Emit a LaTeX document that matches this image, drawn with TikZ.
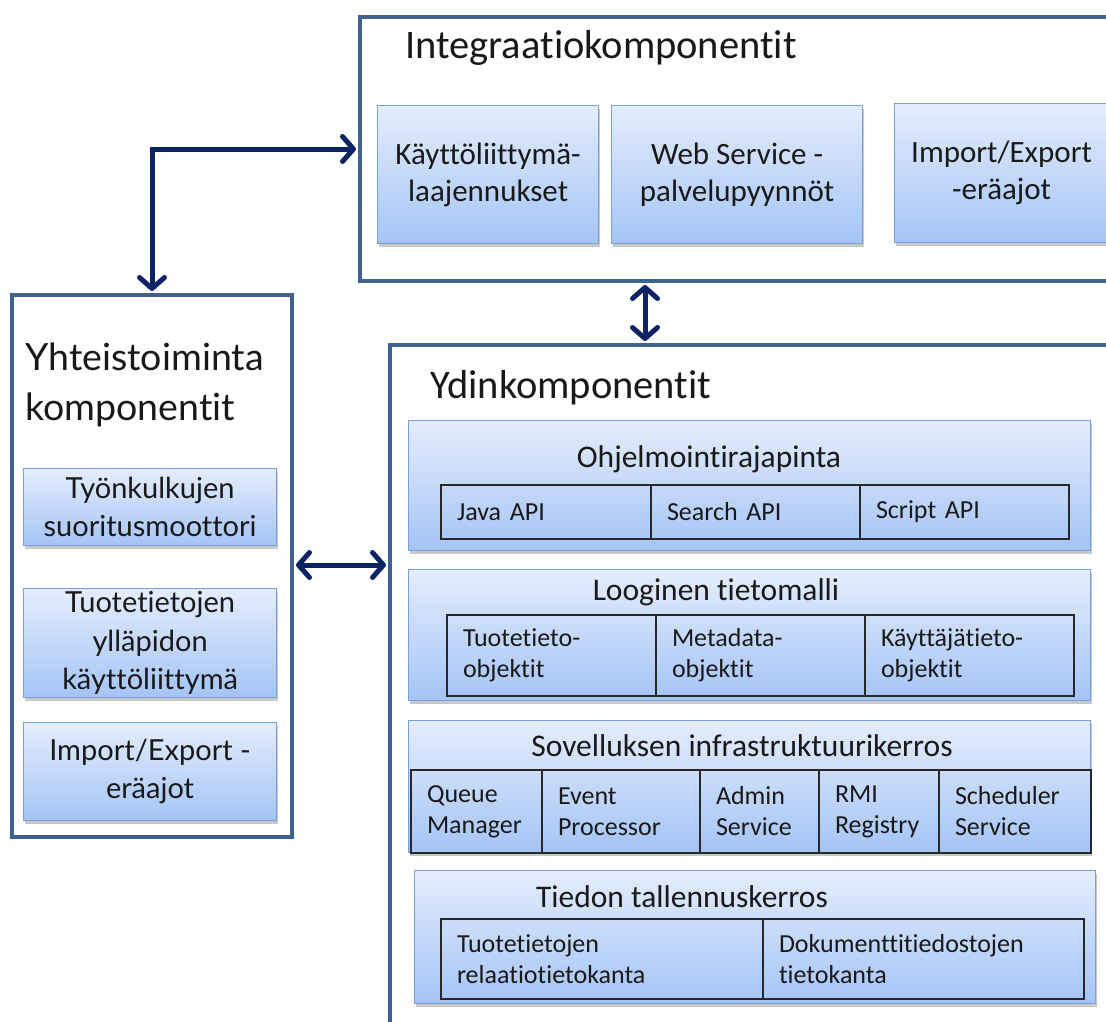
\documentclass[tikz,border=0pt]{standalone}
\usepackage{fontspec}
\setmainfont[Ligatures=NoCommon]{Carlito}
\newfontfamily\corb[Ligatures=NoCommon]{Lato}
\usetikzlibrary{arrows.meta,shadows,calc}
\definecolor{outerc}{RGB}{62,98,145}
\definecolor{arrc}{RGB}{12,36,102}
\definecolor{compb}{RGB}{120,160,220}
\definecolor{ctop}{RGB}{228,237,252}
\definecolor{cbot}{RGB}{164,196,246}
\definecolor{cellc}{RGB}{40,40,40}
\definecolor{txt}{RGB}{25,25,25}
\begin{document}
\begin{tikzpicture}[x=1pt,y=-1pt,
  outer/.style={draw=outerc, line width=4pt, fill=white, anchor=north west, inner sep=0pt},
  comp/.style={draw=compb, line width=1.2pt, top color=ctop, bottom color=cbot,
    drop shadow={shadow xshift=1pt, shadow yshift=-3pt, opacity=0.3, fill=black!70},
    anchor=north west, inner sep=0pt, align=center, text=txt},
  cell/.style={draw=cellc, line width=2pt, anchor=north west, inner xsep=16pt, inner ysep=0pt,
    align=left, text=txt, font=\fontsize{26}{31}\selectfont},
  bigtitle/.style={anchor=base west, inner sep=0pt, text=txt, font=\fontsize{40.5}{46}\selectfont},
  laytitle/.style={anchor=base, inner sep=0pt, text=txt, font=\fontsize{31.5}{36}\selectfont},
  itext/.style={font=\fontsize{31}{37}\selectfont},
  ltext/.style={font=\corb\fontsize{29}{38.5}\selectfont},
  arr/.style={draw=arrc, line width=5pt, shorten <=2pt, shorten >=2pt,
    {Straight Barb[length=11pt,width=25pt,round]}-{Straight Barb[length=11pt,width=25pt,round]}}
]
\useasboundingbox (0,0) rectangle (1106,1021);
\clip (0,0) rectangle (1106,1021);

% ---------- Integraatiokomponentit ----------
\node[outer, minimum width=780, minimum height=264] (integ) at (358,15) {};
\node[bigtitle] (integt) at (405,58) {Integraatiokomponentit};
\node[comp, itext, minimum width=221, minimum height=138] (ik) at (377,105) {Käyttöliittymä-\\laajennukset};
\node[comp, itext, minimum width=251, minimum height=138] (iw) at (611,105) {Web Service -\\palvelupyynnöt};
\node[comp, itext, minimum width=214, minimum height=139] (ii) at (894,103) {Import/Export\\-eräajot};

% ---------- Yhteistoiminta ----------
\node[outer, minimum width=280, minimum height=542] (yht) at (10,293) {};
\node[anchor=north west, inner sep=0pt, align=left, text=txt, font=\corb\fontsize{37.5}{50}\selectfont] (yhtt) at (25,343) {Yhteistoiminta\\komponentit};
\node[comp, ltext, minimum width=253, minimum height=77] (y1) at (23,468) {Työnkulkujen\\suoritusmoottori};
\node[comp, ltext, minimum width=253, minimum height=109] (y2) at (23,588) {Tuotetietojen\\ylläpidon\\käyttöliittymä};
\node[comp, ltext, minimum width=253, minimum height=98] (y3) at (23,722) {Import/Export -\\eräajot};

% ---------- Ydinkomponentit ----------
\node[outer, minimum width=718, minimum height=720] (ydin) at (388,343) {};
\node[bigtitle] (ydint) at (430,398) {Ydinkomponentit};

% Layer 1
\node[comp, minimum width=682, minimum height=130] (l1) at (408,420) {};
\node[laytitle] (l1t) at (709,467) {Ohjelmointirajapinta};
\node[cell, minimum width=210, minimum height=54, text width=178] (c11) at (440,484) {Java API};
\node[cell, minimum width=209, minimum height=54, text width=177] (c12) at (650,484) {Search API};
\node[cell, minimum width=209, minimum height=54, text width=177] (c13) at (859,484) {Script API};

% Layer 2
\node[comp, minimum width=682, minimum height=131] (l2) at (408,569) {};
\node[laytitle] (l2t) at (716,600) {Looginen tietomalli};
\node[cell, minimum width=209, minimum height=81, text width=177] (c21) at (446,614) {Tuotetieto-\\objektit};
\node[cell, minimum width=209, minimum height=81, text width=177] (c22) at (655,614) {Metadata-\\objektit};
\node[cell, minimum width=209, minimum height=81, text width=177] (c23) at (864,614) {Käyttäjätieto-\\objektit};

% Layer 3
\node[comp, minimum width=682, minimum height=132] (l3) at (408,720) {};
\node[laytitle] (l3t) at (742,756) {Sovelluksen infrastruktuurikerros};
\node[cell, minimum width=131, minimum height=83, text width=99] (c31) at (410,769) {Queue\\Manager};
\node[cell, minimum width=158, minimum height=83, text width=126] (c32) at (541,769) {Event\\Processor};
\node[cell, minimum width=119, minimum height=83, text width=87] (c33) at (699,769) {Admin\\Service};
\node[cell, minimum width=120, minimum height=83, text width=88] (c34) at (818,769) {RMI\\Registry};
\node[cell, minimum width=152, minimum height=83, text width=120] (c35) at (938,769) {Scheduler\\Service};

% Layer 4
\node[comp, minimum width=681, minimum height=133] (l4) at (414,870) {};
\node[laytitle] (l4t) at (682,907) {Tiedon tallennuskerros};
\node[cell, minimum width=322, minimum height=80, text width=290] (c41) at (440,918) {Tuotetietojen\\relaatiotietokanta};
\node[cell, minimum width=321, minimum height=80, text width=289] (c42) at (762,918) {Dokumenttitiedostojen\\tietokanta};

% ---------- Connectors ----------
\coordinate (vx) at (645,0);
\coordinate (hy) at (0,565);
\draw[arr] (yht.north) |- (integ.west);
\draw[arr] (vx |- integ.south) -- (vx |- ydin.north);
\draw[arr] (hy -| yht.east) -- (hy -| ydin.west);
\end{tikzpicture}
\end{document}
